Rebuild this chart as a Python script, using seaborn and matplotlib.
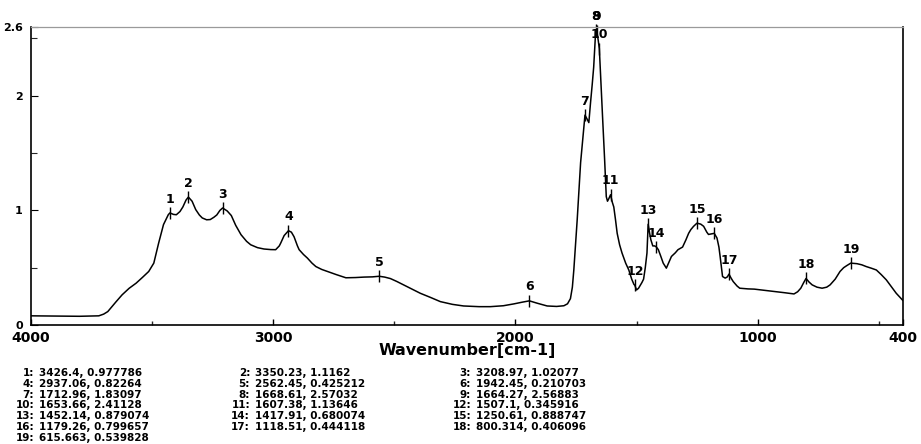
import matplotlib
matplotlib.use("Agg")
import matplotlib.pyplot as plt
import pandas as pd
import seaborn as sns

# IR spectrum: wavenumber (cm-1) and absorbance
wavenumber = [
    4000, 3900, 3800, 3720, 3700, 3683, 3650, 3624, 3595, 3566, 3540, 3514, 3493, 3473,
    3453, 3433, 3426.4, 3412, 3400, 3385, 3373, 3360, 3350.23, 3335, 3320, 3305, 3293,
    3275, 3260, 3245, 3233, 3220, 3208.97, 3190, 3173, 3155, 3133, 3110, 3093, 3065,
    3038, 3010, 2990, 2975, 2969, 2955, 2937.06, 2925, 2914, 2900, 2893, 2875, 2859,
    2840, 2824, 2800, 2776, 2740, 2700, 2660, 2625, 2590, 2562.45, 2540, 2516, 2490,
    2462, 2430, 2393, 2350, 2310, 2260, 2214, 2150, 2104, 2050, 2007, 1970, 1942.45,
    1910, 1869, 1830, 1800, 1785, 1773, 1765, 1759, 1752, 1745, 1738, 1731, 1724, 1718,
    1712.96, 1705, 1697, 1690, 1683, 1677, 1672, 1668.61, 1664.27, 1658, 1653.66, 1648,
    1640, 1632, 1625, 1620, 1615, 1607.38, 1600, 1594, 1587, 1580, 1570, 1560, 1545,
    1532, 1520, 1511, 1507.1, 1500, 1492, 1485, 1478, 1471, 1464, 1457, 1452.14, 1446,
    1441, 1433, 1425, 1417.91, 1410, 1400, 1390, 1377, 1366, 1356, 1340, 1329, 1310,
    1296, 1285, 1276, 1265, 1250.61, 1235, 1223, 1210, 1203, 1190, 1179.26, 1168, 1160,
    1155, 1145, 1134, 1125, 1118.51, 1110, 1101, 1085, 1074, 1040, 1014, 970, 932, 890,
    850, 835, 822, 810, 800.314, 788, 775, 755, 734, 715, 701, 680, 660, 645, 633,
    615.663, 590, 570, 552, 530, 510, 490, 469, 450, 428, 410, 400,
]
absorbance = [
    0.080, 0.078, 0.076, 0.080, 0.095, 0.117, 0.200, 0.263, 0.320, 0.365, 0.415, 0.467,
    0.540, 0.715, 0.876, 0.963, 0.977786, 0.965, 0.962, 0.990, 1.030, 1.090, 1.1162,
    1.080, 1.007, 0.960, 0.934, 0.918, 0.920, 0.940, 0.960, 1.000, 1.02077, 0.995, 0.955,
    0.870, 0.788, 0.730, 0.700, 0.675, 0.663, 0.658, 0.657, 0.690, 0.715, 0.780, 0.82264,
    0.810, 0.770, 0.690, 0.657, 0.615, 0.584, 0.540, 0.510, 0.485, 0.467, 0.440, 0.412,
    0.414, 0.418, 0.420, 0.425212, 0.418, 0.405, 0.380, 0.350, 0.315, 0.277, 0.240,
    0.204, 0.180, 0.166, 0.160, 0.160, 0.168, 0.184, 0.200, 0.210703, 0.190, 0.166,
    0.162, 0.168, 0.185, 0.230, 0.330, 0.480, 0.700, 0.920, 1.170, 1.416, 1.580, 1.720,
    1.83097, 1.800, 1.766, 1.940, 2.100, 2.250, 2.450, 2.57032, 2.56883, 2.480, 2.41128,
    2.150, 1.800, 1.450, 1.120, 1.080, 1.100, 1.13646, 1.070, 1.030, 0.920, 0.800, 0.700,
    0.628, 0.540, 0.480, 0.400, 0.355, 0.345916, 0.306, 0.320, 0.345, 0.370, 0.400,
    0.500, 0.628, 0.879074, 0.800, 0.744, 0.690, 0.690, 0.680074, 0.657, 0.600, 0.540,
    0.496, 0.550, 0.598, 0.630, 0.657, 0.680, 0.744, 0.800, 0.832, 0.860, 0.888747,
    0.880, 0.861, 0.810, 0.790, 0.795, 0.799657, 0.759, 0.680, 0.598, 0.423, 0.409,
    0.420, 0.444118, 0.410, 0.379, 0.340, 0.321, 0.315, 0.313, 0.302, 0.292, 0.282,
    0.271, 0.290, 0.321, 0.370, 0.406096, 0.375, 0.350, 0.330, 0.321, 0.330, 0.350,
    0.400, 0.467, 0.500, 0.517, 0.539828, 0.535, 0.525, 0.510, 0.495, 0.480, 0.440,
    0.394, 0.340, 0.277, 0.235, 0.213,
]

# Picked peaks
peak_ids = list(range(1, 20))
peak_wn = [3426.4, 3350.23, 3208.97, 2937.06, 2562.45, 1942.45, 1712.96, 1668.61,
           1664.27, 1653.66, 1607.38, 1507.1, 1452.14, 1417.91, 1250.61, 1179.26,
           1118.51, 800.314, 615.663]
peak_abs = [0.977786, 1.1162, 1.02077, 0.82264, 0.425212, 0.210703, 1.83097, 2.57032,
            2.56883, 2.41128, 1.13646, 0.345916, 0.879074, 0.680074, 0.888747, 0.799657,
            0.444118, 0.406096, 0.539828]

x_tick_values = [4000, 3000, 2000, 1000, 400]
x_tick_labels = ["4000", "3000", "2000", "1000", "400"]
x_minor_ticks = [3500, 2500, 1500, 500]
y_tick_values = [0, 1, 2, 2.6]
y_tick_labels = ["0", "1", "2", "2.6"]
y_minor_ticks = [0.5, 1.5, 2.5]
x_label = "Wavenumber[cm-1]"

sns.set_theme(style="white")
plt.rcParams["font.family"] = ["DejaVu Sans"]
plt.rcParams["font.weight"] = "bold"
plt.rcParams["text.color"] = "black"

W, H = 921, 444
fig = plt.figure(figsize=(W / 100, H / 100), dpi=100)
ax = fig.add_axes([31 / W, 119 / H, 872 / W, 298 / H])

spectrum = pd.DataFrame({"wavenumber": wavenumber, "absorbance": absorbance})
sns.lineplot(data=spectrum, x="wavenumber", y="absorbance", ax=ax, color="black",
             linewidth=1.1, estimator=None, sort=False)

ax.set_xlim(4000, 400)
ax.set_ylim(0, 2.6)

ax.set_xticks(x_tick_values)
ax.set_xticklabels(x_tick_labels, fontsize=10, fontweight="bold")
ax.set_xticks(x_minor_ticks, minor=True)
ax.set_yticks(y_tick_values)
ax.set_yticklabels(y_tick_labels, fontsize=8, fontweight="bold")
ax.set_yticks(y_minor_ticks, minor=True)
ax.tick_params(axis="x", which="major", direction="in", length=4, width=1, pad=4,
               colors="black", labelcolor="black", bottom=True)
ax.tick_params(axis="x", which="minor", direction="in", length=3, width=1, bottom=True)
ax.tick_params(axis="y", which="major", direction="in", length=5, width=0.8, pad=6,
               colors="black", labelcolor="black", left=True)
ax.tick_params(axis="y", which="minor", direction="in", length=4, width=0.8, left=True)

ax.set_xlabel(x_label, fontsize=11.5, fontweight="bold", labelpad=-1, color="black")
ax.set_ylabel("")

for side in ("left", "bottom", "right"):
    ax.spines[side].set_color("black")
    ax.spines[side].set_linewidth(1.2)
ax.spines["top"].set_color("#9a9a9a")
ax.spines["top"].set_linewidth(0.9)

# Peak markers and numbers
ax.plot(peak_wn, peak_abs, linestyle="none", marker="|", markersize=8,
        markeredgewidth=1.0, color="black", clip_on=False)
for pid, w, a in zip(peak_ids, peak_wn, peak_abs):
    ax.annotate(str(pid), xy=(w, a), xytext=(0, 10), textcoords="offset points",
                ha="center", va="center", fontsize=9, fontweight="bold",
                color="black", annotation_clip=False)

# Peak table below the plot
col_colon_x = [34, 250, 471]
row_y0, row_step = 373, 10.8
for i, (pid, w, a) in enumerate(zip(peak_ids, peak_wn, peak_abs)):
    col = i % 3
    row = i // 3
    x = col_colon_x[col]
    y = row_y0 + row * row_step
    fig.text(x / W, 1 - y / H, f"{pid}:", ha="right", va="center",
             fontsize=7.5, fontweight="bold", color="black")
    fig.text((x + 5) / W, 1 - y / H, f"{w}, {a}", ha="left", va="center",
             fontsize=7.5, fontweight="bold", color="black")

fig.savefig("out.png", dpi=100, facecolor="white")
